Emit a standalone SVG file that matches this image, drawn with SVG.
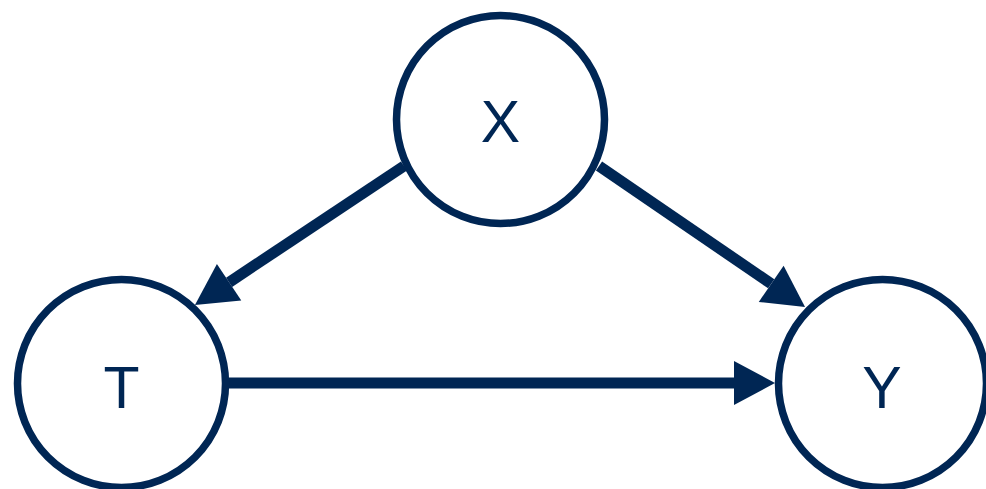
<svg xmlns="http://www.w3.org/2000/svg" width="986" height="489" viewBox="0 0 986 489">
<style>
.node circle{fill:#fff;stroke:#002654;stroke-width:7.5}
.node text{font-family:"Liberation Sans",Arial,sans-serif;font-size:59px;fill:#002654;text-anchor:middle}
.edge{stroke:#002654;stroke-width:11;fill:none;marker-end:url(#ah)}
</style>
<defs>
<marker id="ah" markerUnits="userSpaceOnUse" markerWidth="42" markerHeight="44" refX="0" refY="22" orient="auto" overflow="visible">
<path d="M0,0 L41,22 L0,44 Z" fill="#002654"/>
</marker>
</defs>
<rect width="986" height="489" fill="#fff"/>
<g id="connectors">
<line class="edge" x1="404" y1="166" x2="229.1" y2="282.3"/>
<line class="edge" x1="599" y1="166" x2="771.2" y2="283.8"/>
<line class="edge" x1="229" y1="383" x2="734" y2="383"/>
</g>
<g id="node-X" class="node"><circle cx="500.5" cy="119.5" r="104"/><text x="500.5" y="142">X</text></g>
<g id="node-T" class="node"><circle cx="121.5" cy="383.5" r="104"/><text x="121.5" y="408">T</text></g>
<g id="node-Y" class="node"><circle cx="882.5" cy="383.5" r="104"/><text x="882" y="408">Y</text></g>
</svg>
